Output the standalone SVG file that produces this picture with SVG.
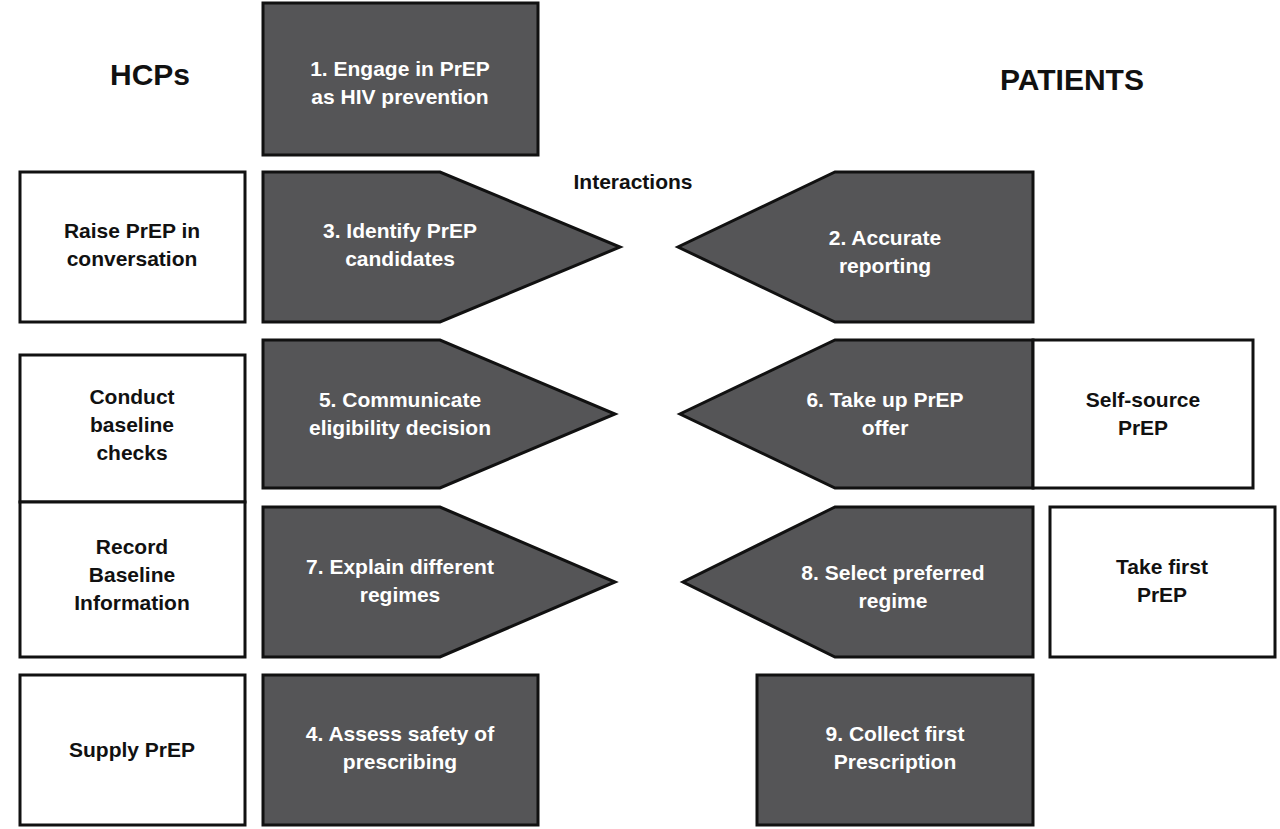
<svg xmlns="http://www.w3.org/2000/svg" width="1280" height="829" viewBox="0 0 1280 829">
<style>
.d{fill:#555557;stroke:#111;stroke-width:3}
.w{fill:#fff;stroke:#111;stroke-width:3}
text{font-family:"Liberation Sans",Arial,sans-serif;font-weight:bold;font-size:21px;text-anchor:middle}
.dt{fill:#fff}
.wt{fill:#111}
.h{font-size:30px;fill:#111}
</style>
<rect width="1280" height="829" fill="#fff"/>
<text class="h" x="150" y="85">HCPs</text>
<text class="h" x="1072" y="90">PATIENTS</text>
<text class="wt" x="633" y="189">Interactions</text>
<g id="n1"><rect class="d" x="263" y="3" width="275" height="152"/><text class="dt" x="400" y="76">1. Engage in PrEP</text><text class="dt" x="400" y="104">as HIV prevention</text></g>
<g id="raise"><rect class="w" x="20" y="172" width="225" height="150"/><text class="wt" x="132" y="238">Raise PrEP in</text><text class="wt" x="132" y="266">conversation</text></g>
<g id="n3"><polygon class="d" points="263,172 440,172 620,247 440,322 263,322"/><text class="dt" x="400" y="238">3. Identify PrEP</text><text class="dt" x="400" y="266">candidates</text></g>
<g id="n2"><polygon class="d" points="1033,172 835,172 678,247 835,322 1033,322"/><text class="dt" x="885" y="245">2. Accurate</text><text class="dt" x="885" y="273">reporting</text></g>
<g id="conduct"><rect class="w" x="20" y="355" width="225" height="147"/><text class="wt" x="132" y="404">Conduct</text><text class="wt" x="132" y="432">baseline</text><text class="wt" x="132" y="460">checks</text></g>
<g id="n5"><polygon class="d" points="263,340 440,340 615,414 440,488 263,488"/><text class="dt" x="400" y="407">5. Communicate</text><text class="dt" x="400" y="435">eligibility decision</text></g>
<g id="n6"><polygon class="d" points="1033,340 835,340 680,414 835,488 1033,488"/><text class="dt" x="885" y="407">6. Take up PrEP</text><text class="dt" x="885" y="435">offer</text></g>
<g id="self"><rect class="w" x="1033" y="340" width="220" height="148"/><text class="wt" x="1143" y="407">Self-source</text><text class="wt" x="1143" y="435">PrEP</text></g>
<g id="record"><rect class="w" x="20" y="502" width="225" height="155"/><text class="wt" x="132" y="554">Record</text><text class="wt" x="132" y="582">Baseline</text><text class="wt" x="132" y="610">Information</text></g>
<g id="n7"><polygon class="d" points="263,507 440,507 615,582 440,657 263,657"/><text class="dt" x="400" y="574">7. Explain different</text><text class="dt" x="400" y="602">regimes</text></g>
<g id="n8"><polygon class="d" points="1033,507 835,507 683,582 835,657 1033,657"/><text class="dt" x="893" y="580">8. Select preferred</text><text class="dt" x="893" y="608">regime</text></g>
<g id="take"><rect class="w" x="1050" y="507" width="225" height="150"/><text class="wt" x="1162" y="574">Take first</text><text class="wt" x="1162" y="602">PrEP</text></g>
<g id="supply"><rect class="w" x="20" y="675" width="225" height="150"/><text class="wt" x="132" y="757">Supply PrEP</text></g>
<g id="n4"><rect class="d" x="263" y="675" width="275" height="150"/><text class="dt" x="400" y="741">4. Assess safety of</text><text class="dt" x="400" y="769">prescribing</text></g>
<g id="n9"><rect class="d" x="757" y="675" width="276" height="150"/><text class="dt" x="895" y="741">9. Collect first</text><text class="dt" x="895" y="769">Prescription</text></g>
<g id="connectors"></g>
</svg>
